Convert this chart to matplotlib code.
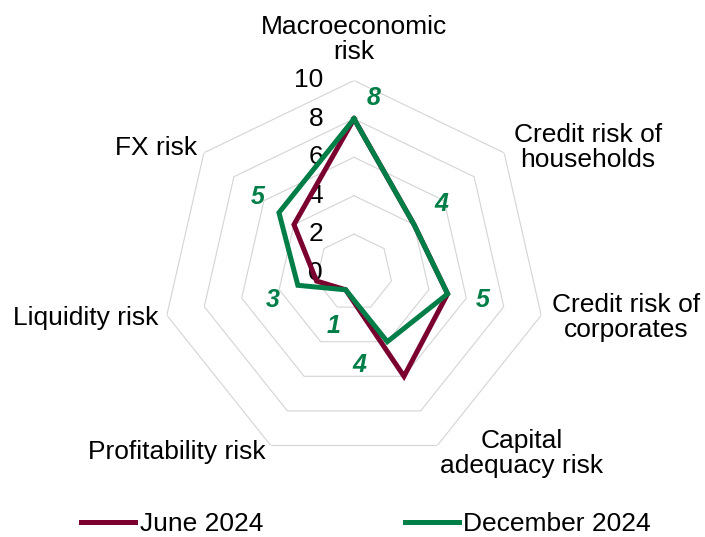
import numpy as np
import matplotlib
matplotlib.use("Agg")
import matplotlib.pyplot as plt

plt.rcParams["font.family"] = ["Liberation Sans", "DejaVu Sans"]

categories = ["Macroeconomic\nrisk", "Credit risk of\nhouseholds", "Credit risk of\ncorporates",
              "Capital\nadequacy risk", "Profitability risk", "Liquidity risk", "FX risk"]
june_2024 = [8, 4, 5, 6, 1, 2, 4]
december_2024 = [8, 4, 5, 4, 1, 3, 5]
levels = [2, 4, 6, 8, 10]

maroon = "#7A0030"
green = "#007E47"
grid_col = "#D4D4D4"

n = len(categories)
theta = np.arange(n) * 2 * np.pi / n
theta_closed = np.append(theta, 2 * np.pi)


def closed(vals):
    return np.append(vals, vals[0])


fig = plt.figure(figsize=(7.05, 5.37), dpi=100)
ax = fig.add_axes([0.2298, 0.135, 0.5447, 0.7151], projection="polar")
ax.set_theta_offset(np.pi / 2)
ax.set_theta_direction(-1)
ax.set_ylim(0, 10)
ax.grid(False)
ax.spines["polar"].set_visible(False)
ax.set_xticks([])
ax.set_yticks([])
ax.patch.set_visible(False)

# heptagon gridlines
for lv in levels:
    ax.plot(theta_closed, [lv] * (n + 1), color=grid_col, lw=0.8, zorder=1)

# radial tick labels, left of the top spoke
for lv in [0] + levels:
    ax.annotate(str(lv), xy=(0, lv), xytext=(-31, 0), textcoords="offset pixels",
                ha="right", va="center", fontsize=19, color="black", annotation_clip=False)

l1, = ax.plot(theta_closed, closed(june_2024), color=maroon, lw=3.6,
              solid_joinstyle="miter", zorder=3, label="June 2024")
l2, = ax.plot(theta_closed, closed(december_2024), color=green, lw=3.6,
              solid_joinstyle="miter", zorder=4, label="December 2024")

# data labels for December (offsets in pixels, y up)
lab_off = [(20, 21), (27, 21), (35, -6), (-28, -23), (-12, -36), (-25, -15), (-21, 16)]
for t, v, (dx, dy) in zip(theta, december_2024, lab_off):
    ax.annotate(str(v), xy=(t, v), xytext=(dx, dy), textcoords="offset pixels",
                ha="center", va="center", fontsize=18, fontweight="bold",
                fontstyle="italic", color=green, annotation_clip=False)

# category labels
cat_off = [(0, 41), (84, 5), (85, -2), (84, -8), (-94, -7), (-81, -3), (-48, 5)]
for t, c, (dx, dy) in zip(theta, categories, cat_off):
    ax.annotate(c, xy=(t, 10), xytext=(dx, dy), textcoords="offset pixels",
                ha="center", va="center", fontsize=19, linespacing=1.05,
                annotation_clip=False)

fig.legend(handles=[l1, l2], loc="center left", bbox_to_anchor=(81 / 705, 1 - 524 / 537),
           ncol=2, frameon=False, borderpad=0, borderaxespad=0,
           handlelength=2.05, handletextpad=0.17, columnspacing=5.37, fontsize=19)

fig.savefig("out.png", dpi=100)
